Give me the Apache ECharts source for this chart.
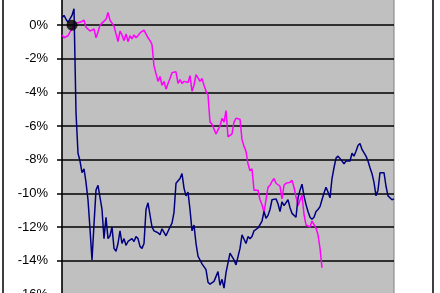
<!DOCTYPE html>
<html>
<head>
<meta charset="utf-8">
<script src="https://cdn.jsdelivr.net/npm/echarts@6/dist/echarts.min.js"></script>
<style>
html,body{margin:0;padding:0;background:#fff;overflow:hidden;width:440px;height:293px;position:relative;}
#c{position:absolute;left:0;top:-15px;width:440px;height:316px;}
</style>
</head>
<body>
<div id="c"></div>
<script>
// Series values in percent
const navySeries = [
0.46,0.58,0.35,0.17,0.23,0.58,0.98,-5.19,-7.61,-8.07,
-8.76,-8.53,-9.34,-10.37,-12.10,-13.95,-11.82,-9.80,-9.51,-9.57,
-10.95,-12.68,-11.41,-12.68,-12.51,-11.99,-13.26,-13.43,-12.97,-12.22,
-12.97,-12.68,-13.08,-12.85,-12.85,-12.68,-12.85,-12.56,-12.68,-13.14,
-13.26,-12.97,-10.95,-10.55,-10.61,-11.99,-12.22,-12.16,-12.33,-12.45,
-12.10,-11.99,-12.51,-12.56,-11.99,-11.76,-11.12,-9.39,-9.28,-9.11,
-8.82,-9.68,-10.14,-9.91,-10.95,-12.22,-11.87,-12.97,-13.72,-13.95,
-14.18,-14.29,-14.52,-15.27,-15.39,-15.33,-15.22,-15.27,-14.64,-15.45,
-15.10,-15.62,-14.70,-14.12,-13.54,-13.43,-13.95,-14.24,-14.18,-13.26,
-12.45,-12.56,-12.97,-12.56,-12.68,-12.56,-12.22,-12.33,-12.05,-11.99,
-11.64,-11.07,-11.47,-11.30,-10.95,-10.37,-10.37,-10.32,-10.61,-11.07,
-10.49,-10.72,-10.66,-10.37,-10.84,-11.18,-11.07,-11.41,-10.26,-9.80,
-9.45,-10.14,-10.66,-11.07,-11.41,-11.53,-11.41,-11.07,-10.95,-10.78,
-10.37,-9.97,-9.63,-9.91,-10.26,-9.11,-8.47,-7.90,-7.78,-7.67,
-8.07,-8.24,-8.07,-8.07,-8.07,-7.61,-7.78,-7.49,-7.15,-7.03,
-7.38,-7.49,-7.78,-8.07,-8.47,-8.82,-9.34,-10.14,-9.80,-8.76,
-8.65,-8.76,-9.57,-10.14,-10.09,-10.37,-10.32
];
const magentaSeries = [
-0.58,-0.75,-0.69,-0.63,-0.40,-0.23,0.00,0.12,0.17,0.17,
0.06,0.29,-0.12,-0.23,-0.35,-0.46,-0.23,-0.75,-0.40,0.00,
0.12,0.06,0.35,0.75,0.29,0.12,-0.06,-0.12,-0.98,-0.35,
-0.58,-0.92,-0.52,-0.98,-0.63,-0.81,-0.58,-0.75,-0.63,-0.46,
-0.35,-0.29,-0.40,-0.75,-0.92,-1.15,-2.42,-2.88,-3.34,-3.05,
-3.57,-3.34,-3.80,-3.46,-3.17,-2.82,-2.71,-2.77,-3.46,-3.23,
-3.46,-3.34,-3.29,-3.40,-3.00,-3.92,-3.57,-2.94,-3.00,-3.34,
-3.17,-3.57,-3.92,-4.15,-5.76,-5.88,-5.99,-6.46,-6.22,-5.99,
-5.53,-5.76,-5.07,-6.63,-6.74,-6.46,-5.76,-5.53,-5.48,-5.59,
-6.80,-7.20,-7.49,-8.24,-8.65,-8.53,-9.80,-9.86,-9.80,-10.37,
-10.66,-11.12,-10.37,-9.63,-9.51,-9.28,-9.11,-9.39,-9.34,-9.57,
-10.32,-9.51,-9.39,-9.34,-9.34,-9.22,-9.63,-10.20,-10.72,-10.66,
-10.09,-11.24,-11.87,-11.93,-11.99,-11.64,-11.64,-12.05,-12.45,-13.26,
-14.41
];
const markerIndex = 5;
const markerValue = 0;
const yMin = -16, yMax = 2, yStep = 2;
const categories = navySeries.map((_, i) => i);

const chart = echarts.init(document.getElementById('c'), null, {renderer: 'canvas'});
chart.setOption({
  animation: false,
  backgroundColor: '#ffffff',
  graphic: [{
    type: 'rect', silent: true, z: -1,
    shape: {x: 3, y: -5, width: 430, height: 330},
    style: {fill: 'none', stroke: '#000', lineWidth: 1.5}
  }],
  grid: {
    left: 62, right: 46, top: 0, bottom: 3,
    show: true, backgroundColor: '#c0c0c0', borderColor: '#808080', borderWidth: 1
  },
  xAxis: {
    type: 'category', data: categories, boundaryGap: false,
    axisLine: {show: false}, axisTick: {show: false}, axisLabel: {show: false},
    splitLine: {show: false}
  },
  yAxis: {
    type: 'value', min: yMin, max: yMax, interval: yStep,
    axisLine: {show: true, lineStyle: {color: '#000', width: 1.5}},
    axisTick: {show: true, inside: false, length: 5, lineStyle: {color: '#000', width: 1.5}},
    axisLabel: {
      margin: 14, color: '#000', fontFamily: 'Liberation Sans, Arial, sans-serif', fontSize: 13,
      formatter: v => v + '%'
    },
    splitLine: {show: true, lineStyle: {color: '#000', width: 1.5}}
  },
  series: [
    {
      type: 'line', data: magentaSeries, showSymbol: false, symbol: 'none',
      lineStyle: {color: '#ff00ff', width: 1.5}, z: 2
    },
    {
      type: 'line', data: navySeries, showSymbol: false, symbol: 'none',
      lineStyle: {color: '#000080', width: 1.5}, z: 3
    },
    {
      type: 'scatter', data: [[markerIndex, markerValue]], symbolSize: 11,
      itemStyle: {color: '#000'}, z: 4
    }
  ]
});
</script>
</body>
</html>
